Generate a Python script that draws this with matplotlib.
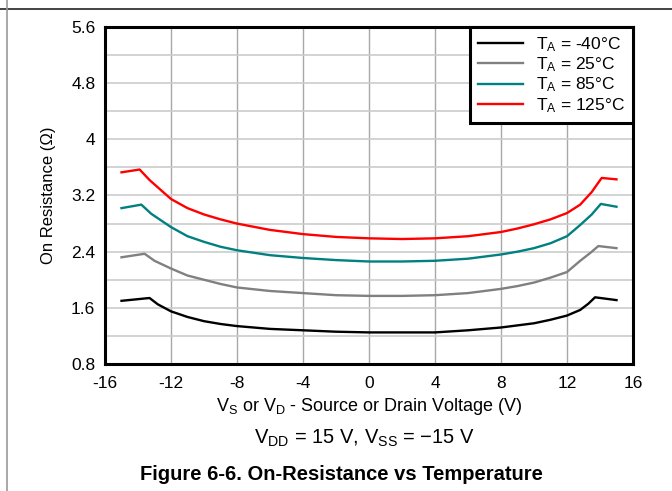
import numpy as np
import matplotlib
matplotlib.use("Agg")
import matplotlib.pyplot as plt
from matplotlib.lines import Line2D

plt.rcParams["font.family"] = ["Liberation Sans", "DejaVu Sans"]
plt.rcParams["mathtext.fontset"] = "custom"
plt.rcParams["mathtext.rm"] = "Liberation Sans"
plt.rcParams["mathtext.it"] = "Liberation Sans:italic"
plt.rcParams["mathtext.bf"] = "Liberation Sans:bold"

# -------------------------------------------------
# Data (V, Ohm)
# -------------------------------------------------
x_m40 = [-15, -13.3, -12.8, -12, -11, -10, -9, -8, -6, -4, -2, 0, 2, 4, 6, 8, 9, 10, 11, 12, 12.8, 13.3, 13.7, 15]
r_m40 = [1.70, 1.74, 1.65, 1.55, 1.47, 1.41, 1.37, 1.34, 1.30, 1.28, 1.26, 1.25, 1.25, 1.25, 1.28, 1.32, 1.35, 1.38, 1.43, 1.49, 1.57, 1.66, 1.75, 1.71]

x_25 = [-15, -13.6, -13, -12, -11, -10, -9, -8, -6, -4, -2, 0, 2, 4, 6, 8, 9, 10, 11, 12, 12.8, 13.4, 13.9, 15]
r_25 = [2.32, 2.37, 2.27, 2.16, 2.06, 2.00, 1.94, 1.89, 1.84, 1.81, 1.78, 1.77, 1.77, 1.78, 1.81, 1.87, 1.91, 1.96, 2.03, 2.11, 2.27, 2.38, 2.48, 2.45]

x_85 = [-15, -13.8, -13.2, -12, -11, -10, -9, -8, -6, -4, -2, 0, 2, 4, 6, 8, 9, 10, 11, 12, 12.8, 13.5, 14.05, 15]
r_85 = [3.02, 3.07, 2.94, 2.75, 2.62, 2.54, 2.47, 2.42, 2.35, 2.31, 2.28, 2.26, 2.26, 2.27, 2.30, 2.36, 2.40, 2.45, 2.52, 2.62, 2.78, 2.93, 3.08, 3.04]

x_125 = [-15, -13.9, -13.3, -12, -11, -10, -9, -8, -6, -4, -2, 0, 2, 4, 6, 8, 9, 10, 11, 12, 12.8, 13.5, 14.1, 15]
r_125 = [3.53, 3.57, 3.42, 3.15, 3.02, 2.93, 2.86, 2.80, 2.71, 2.65, 2.61, 2.59, 2.58, 2.59, 2.62, 2.68, 2.73, 2.79, 2.86, 2.95, 3.07, 3.25, 3.45, 3.43]

labels = ["T$_\\mathrm{A}$ = -40°C", "T$_\\mathrm{A}$ = 25°C",
          "T$_\\mathrm{A}$ = 85°C", "T$_\\mathrm{A}$ = 125°C"]
colors = ["#000000", "#808080", "#008080", "#ff0000"]

x_ticks = [-16, -12, -8, -4, 0, 4, 8, 12, 16]
y_ticks = [0.8, 1.6, 2.4, 3.2, 4, 4.8, 5.6]
y_ticklabels = ["0.8", "1.6", "2.4", "3.2", "4", "4.8", "5.6"]

fig = plt.figure(figsize=(6.72, 4.91), dpi=100)
ax = fig.add_axes([105 / 672, 1 - 364 / 491, 528 / 672, 337 / 491])

for xs, ys, c, lab in zip([x_m40, x_25, x_85, x_125], [r_m40, r_25, r_85, r_125], colors, labels):
    ax.plot(xs, ys, color=c, lw=1.7, label=lab, solid_joinstyle="round")

ax.set_xlim(-16, 16)
ax.set_ylim(0.8, 5.6)
ax.set_xticks(x_ticks)
ax.set_xticklabels([str(t) for t in x_ticks])
ax.set_yticks(y_ticks)
ax.set_yticklabels(y_ticklabels)
ax.set_yticks(np.arange(1.2, 5.6, 0.8), minor=True)
ax.tick_params(length=0, labelsize=12.5)
ax.tick_params(axis="x", pad=9)
ax.tick_params(axis="y", pad=7)
ax.tick_params(which="minor", length=0)

ax.grid(True, axis="x", color="#a8a8a8", lw=1)
ax.grid(True, axis="y", which="both", color="#cccccc", lw=1.2)
ax.set_axisbelow(True)
for s in ax.spines.values():
    s.set_linewidth(2.2)
    s.set_color("black")

ax.set_xlabel("V$_\\mathrm{S}$ or V$_\\mathrm{D}$ - Source or Drain Voltage (V)", fontsize=13, labelpad=3)
ax.set_ylabel("On Resistance (Ω)", fontsize=12, labelpad=11)

leg = ax.legend(loc="upper right", fontsize=12.5, frameon=True, fancybox=False,
                borderaxespad=0, handlelength=2.6, handletextpad=0.75,
                labelspacing=0.1, borderpad=0.45, framealpha=1)
leg.get_frame().set_edgecolor("black")
leg.get_frame().set_linewidth(2.2)

fig.text(364 / 672, 1 - 438 / 491, "V$_\\mathrm{DD}$ = 15 V, V$_\\mathrm{SS}$ = \u221215 V",
         ha="center", va="center", fontsize=14.5)
fig.text(341 / 672, 1 - 474 / 491, "Figure 6-6. On-Resistance vs Temperature",
         ha="center", va="center", fontsize=14.5, fontweight="bold")

# page frame lines
fig.add_artist(Line2D([0, 1], [1 - 9 / 491, 1 - 9 / 491], color="#222222", lw=1.2))
fig.add_artist(Line2D([7 / 672, 7 / 672], [0, 1], color="#999999", lw=1.2))

fig.savefig("out.png", dpi=100)
